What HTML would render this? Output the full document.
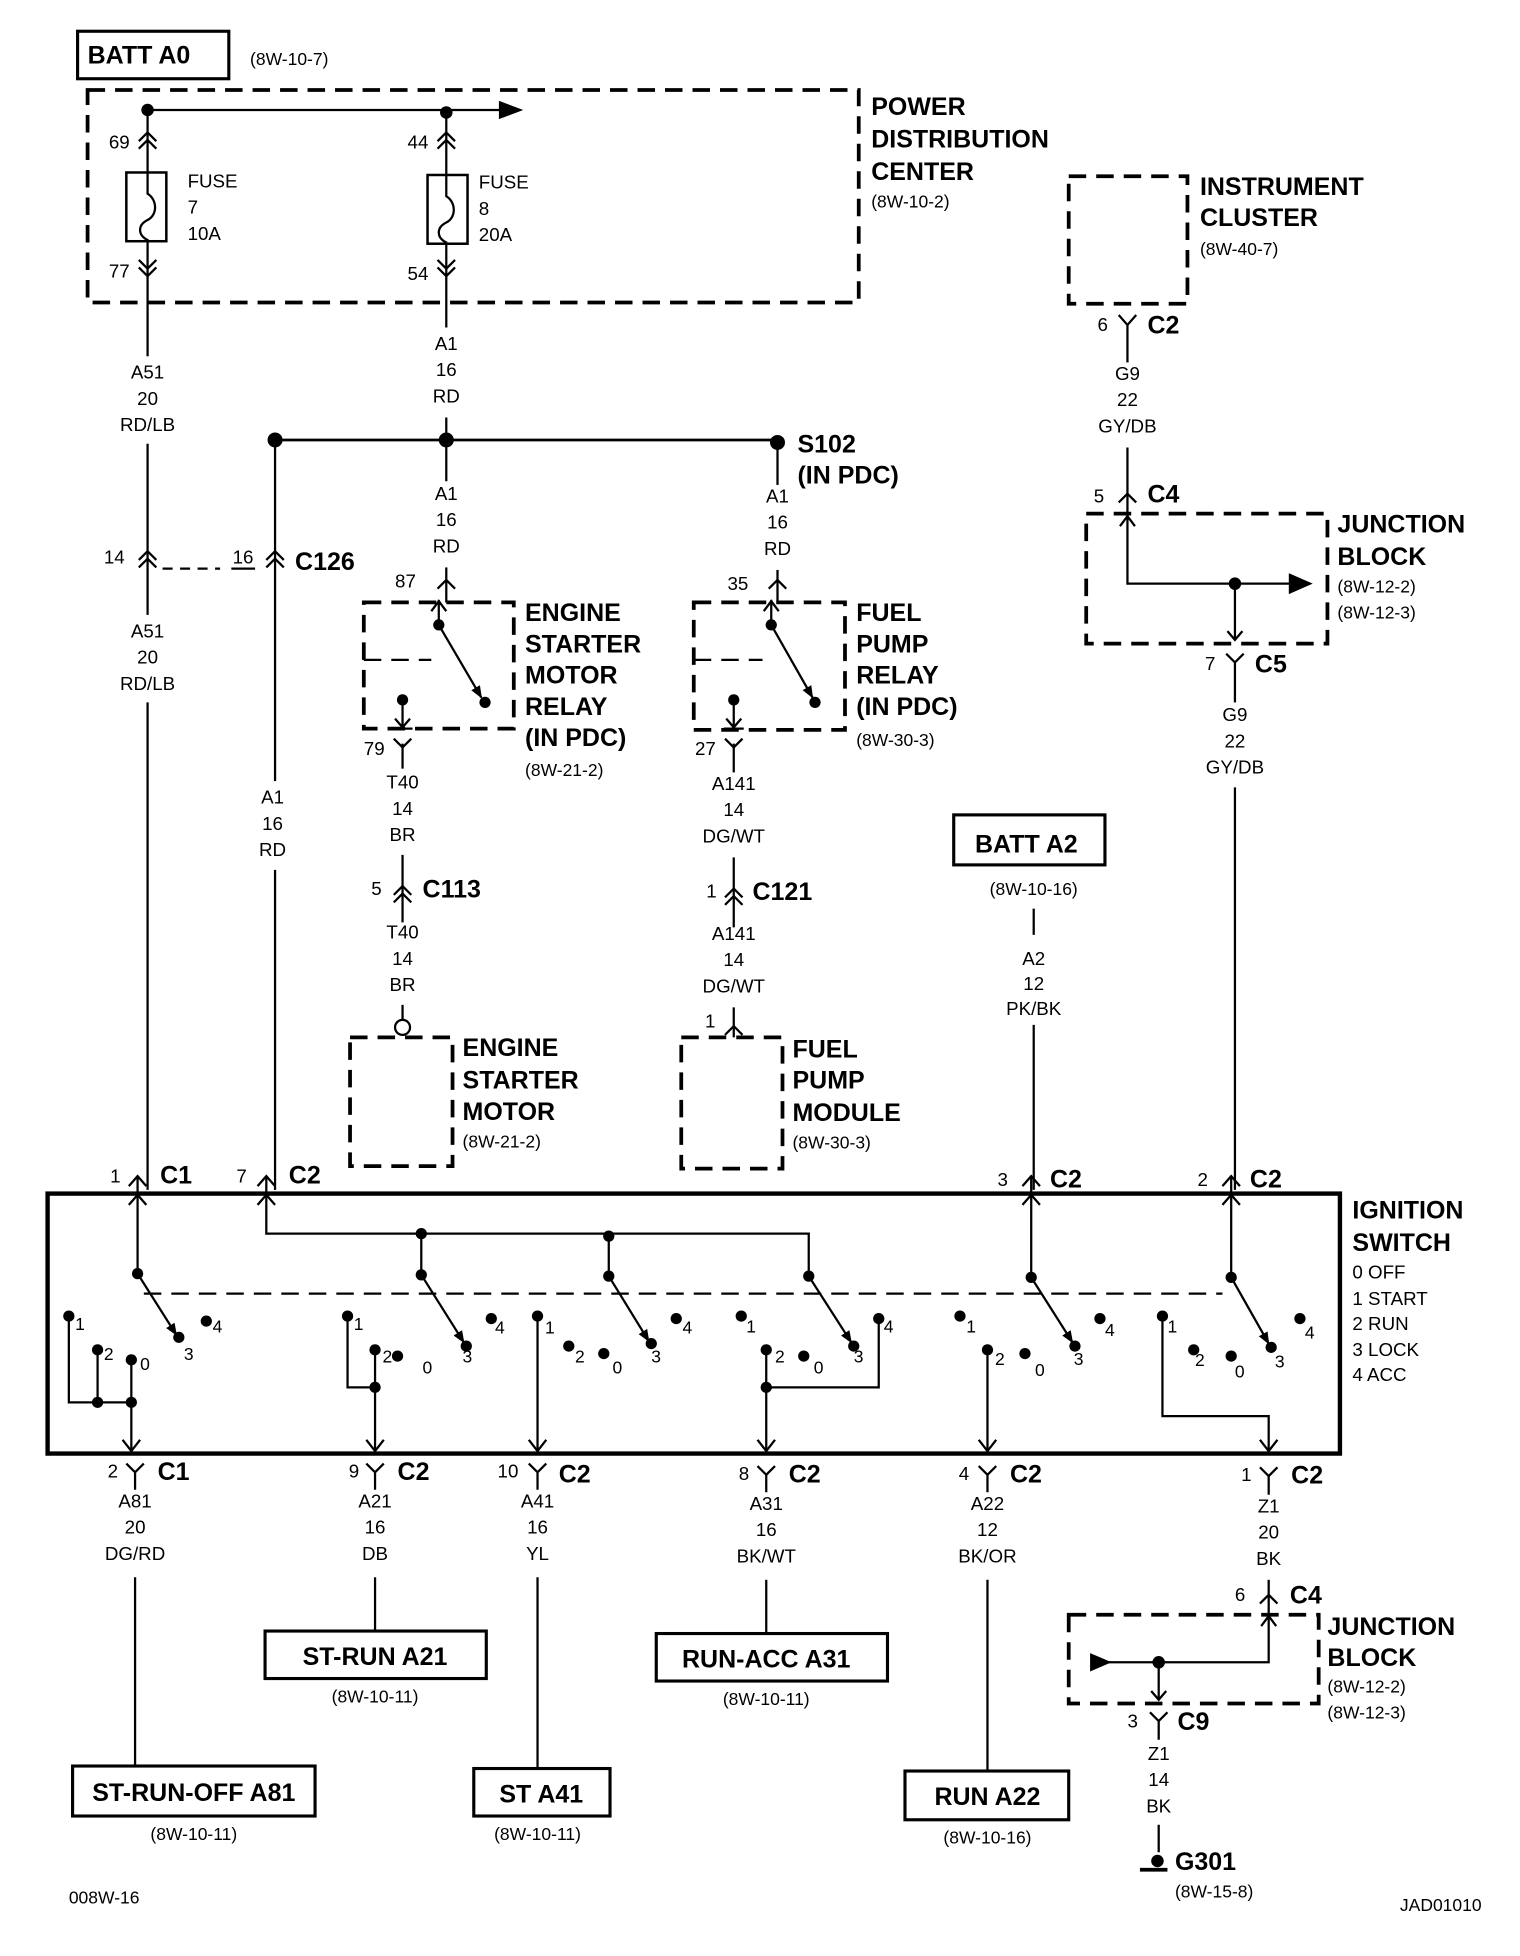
<!DOCTYPE html>
<html><head><meta charset="utf-8"><style>
html,body{margin:0;padding:0;background:#fff;}
svg{display:block;}
text{font-family:"Liberation Sans",Arial,sans-serif;fill:#000;}
.b{font-weight:bold;font-size:20px;}
.s{font-size:14px;}
.m{font-size:15px;}
.w{font-size:15px;text-anchor:middle;}
</style></head><body>
<svg width="1520" height="1956" viewBox="0 0 1216 1565" xmlns="http://www.w3.org/2000/svg">
<defs>
<marker id="ah" markerWidth="10" markerHeight="10" refX="9" refY="5" orient="auto" markerUnits="userSpaceOnUse"><path d="M0,1 L10,5 L0,9 Z"/></marker>
<marker id="ahs" markerWidth="12" markerHeight="12" refX="11" refY="6" orient="auto" markerUnits="userSpaceOnUse"><path d="M0,0 L12,6 L0,12 Z"/></marker>
</defs>
<g fill="none" stroke="#000" stroke-width="1.8">
<!-- BATT A0 -->
<rect x="62" y="25" width="121" height="38" stroke-width="2.5"/>
<!-- PDC box -->
<rect x="70" y="72" width="617" height="170" stroke-width="3" stroke-dasharray="14,8"/>
<!-- top bus -->
<line x1="118" y1="88" x2="400" y2="88"/>
<path d="M400,82 L416,88 L400,94 Z" fill="#000"/>
<!-- fuses -->
<rect x="101" y="138" width="32" height="55" stroke-width="2"/>
<rect x="342" y="140" width="32" height="55" stroke-width="2"/>
<path d="M118,88 V155 C126,160 126,172 118,176 C110,180 110,188 118,192 V285"/>
<path d="M357,88 V157 C365,162 365,174 357,178 C349,182 349,190 357,194 V262"/>
<path d="M111,113 L118,106 L125,113 M111,119 L118,112 L125,119"/>
<path d="M350,113 L357,106 L364,113 M350,119 L357,112 L364,119"/>
<path d="M111,208 L118,215 L125,208 M111,214 L118,221 L125,214"/>
<path d="M350,208 L357,215 L364,208 M350,214 L357,221 L364,214"/>
<!-- A51 wire -->
<line x1="118" y1="355" x2="118" y2="492"/>
<line x1="118" y1="562" x2="118" y2="952"/>
<path d="M111,448 L118,441 L125,448 M111,454 L118,447 L125,454"/>
<path d="M213,448 L220,441 L227,448 M213,454 L220,447 L227,454"/>
<line x1="130" y1="455" x2="176" y2="455" stroke-dasharray="8,6"/>
<line x1="185" y1="455" x2="204" y2="455"/>
<!-- A1 main -->
<line x1="357" y1="334" x2="357" y2="385"/>
<line x1="357" y1="454" x2="357" y2="482"/>
<path d="M350,471 L357,464 L364,471"/>
<!-- bus -->
<line x1="220" y1="352" x2="622" y2="352" stroke-width="2.2"/>
<line x1="220" y1="352" x2="220" y2="625"/>
<line x1="220" y1="696" x2="220" y2="952"/>
<line x1="622" y1="352" x2="622" y2="388"/>
<line x1="622" y1="456" x2="622" y2="482"/>
<path d="M615,471 L622,464 L629,471"/>
<!-- starter relay -->
<rect x="291" y="482" width="120" height="101" stroke-width="3" stroke-dasharray="14,8"/>
<line x1="291" y1="528" x2="345" y2="528" stroke-dasharray="14,8"/>
<path d="M351,480 V500 M345,489 L351,481 L357,489"/>
<line x1="351" y1="500" x2="385" y2="558" marker-end="url(#ah)"/>
<path d="M322,560 V582 M316,575 L322,582 L328,575 M314,583 H330"/>
<line x1="322" y1="595" x2="322" y2="615"/>
<path d="M315,591 L322,598 L329,591"/>
<line x1="322" y1="684" x2="322" y2="738"/>
<path d="M315,716 L322,709 L329,716 M315,722 L322,715 L329,722"/>
<line x1="322" y1="804" x2="322" y2="816"/>
<circle cx="322" cy="822" r="6"/>
<rect x="280" y="830" width="82" height="103" stroke-width="3" stroke-dasharray="14,8"/>
<!-- fuel pump relay -->
<rect x="555" y="482" width="121" height="102" stroke-width="3" stroke-dasharray="14,8"/>
<line x1="555" y1="528" x2="610" y2="528" stroke-dasharray="14,8"/>
<path d="M617,480 V500 M611,489 L617,481 L623,489"/>
<line x1="617" y1="500" x2="650" y2="558" marker-end="url(#ah)"/>
<path d="M587,560 V582 M581,575 L587,582 L593,575 M579,583 H595"/>
<line x1="587" y1="595" x2="587" y2="618"/>
<path d="M580,591 L587,598 L594,591"/>
<line x1="587" y1="686" x2="587" y2="742"/>
<path d="M580,718 L587,711 L594,718 M580,724 L587,717 L594,724"/>
<line x1="587" y1="806" x2="587" y2="830"/>
<path d="M580,828 L587,821 L594,828"/>
<rect x="545" y="830" width="81" height="105" stroke-width="3" stroke-dasharray="14,8"/>
<!-- BATT A2 -->
<rect x="763" y="652" width="121" height="40" stroke-width="2.5"/>
<line x1="827" y1="727" x2="827" y2="748"/>
<line x1="827" y1="820" x2="827" y2="952"/>
<!-- instrument cluster -->
<rect x="855" y="141" width="95" height="102" stroke-width="3" stroke-dasharray="14,8"/>
<line x1="902" y1="260" x2="902" y2="290"/>
<path d="M895,252 L902,260 L909,252"/>
<line x1="902" y1="358" x2="902" y2="411"/>
<path d="M895,402 L902,395 L909,402"/>
<rect x="869" y="411" width="193" height="104" stroke-width="3" stroke-dasharray="14,8"/>
<path d="M902,412 V467 H1035 M896,421 L902,413 L908,421"/>
<path d="M1032,460 L1048,467 L1032,474 Z" fill="#000"/>
<path d="M988,467 V512 M982,505 L988,512 L994,505"/>
<line x1="988" y1="530" x2="988" y2="562"/>
<path d="M981,523 L988,530 L995,523"/>
<line x1="988" y1="630" x2="988" y2="952"/>
<!-- ignition switch -->
<rect x="38" y="955" width="1034" height="208" stroke-width="3.5"/>
<path d="M103,949 L110,941 L117,949 M206,949 L213,941 L220,949 M818,949 L825,941 L832,949 M978,949 L985,941 L992,949"/>
<path d="M103,964 L110,956 L117,964 M206,964 L213,956 L220,964 M818,964 L825,956 L832,964 M978,964 L985,956 L992,964"/>
<line x1="115" y1="1035" x2="978" y2="1035" stroke-dasharray="14,8"/>
<!-- group1 -->
<path d="M110,942 V1019"/>
<line x1="110" y1="1019" x2="141" y2="1068" marker-end="url(#ah)"/>
<path d="M55,1053 V1122 H105 M78,1080 V1122 M105,1088 V1160"/>
<!-- group2 bus -->
<path d="M213,942 V987 H647 V1021"/>
<path d="M337,987 V1020 M487,987 V1021"/>
<line x1="337" y1="1020" x2="371" y2="1074" marker-end="url(#ah)"/>
<line x1="487" y1="1021" x2="519" y2="1073" marker-end="url(#ah)"/>
<line x1="647" y1="1021" x2="681" y2="1074" marker-end="url(#ah)"/>
<path d="M278,1053 V1110 H300 M300,1080 V1160"/>
<path d="M430,1053 V1160"/>
<path d="M613,1080 V1160 M703,1055 V1110 H613"/>
<path d="M825,942 V1022"/>
<line x1="825" y1="1022" x2="858" y2="1074" marker-end="url(#ah)"/>
<path d="M790,1080 V1160"/>
<path d="M985,942 V1022"/>
<line x1="985" y1="1022" x2="1015" y2="1075" marker-end="url(#ah)"/>
<path d="M930,1053 V1133 H1015 V1160"/>
<!-- bottom arrows into connectors -->
<path d="M98,1152 L105,1161 L112,1152 M293,1152 L300,1161 L307,1152 M423,1152 L430,1161 L437,1152 M606,1152 L613,1161 L620,1152 M783,1152 L790,1161 L797,1152 M1008,1152 L1015,1161 L1022,1152"/>
<!-- bottom Y connectors -->
<path d="M101,1171 L108,1178 L115,1171 M108,1178 V1192"/>
<path d="M293,1171 L300,1178 L307,1171 M300,1178 V1192"/>
<path d="M423,1171 L430,1178 L437,1171 M430,1178 V1192"/>
<path d="M606,1173 L613,1180 L620,1173 M613,1180 V1194"/>
<path d="M783,1173 L790,1180 L797,1173 M790,1180 V1194"/>
<path d="M1008,1174 L1015,1181 L1022,1174 M1015,1181 V1196"/>
<line x1="108" y1="1262" x2="108" y2="1413"/>
<line x1="300" y1="1262" x2="300" y2="1305"/>
<line x1="430" y1="1262" x2="430" y2="1415"/>
<line x1="613" y1="1264" x2="613" y2="1307"/>
<line x1="790" y1="1264" x2="790" y2="1417"/>
<line x1="1015" y1="1264" x2="1015" y2="1292"/>
<path d="M1008,1283 L1015,1276 L1022,1283"/>
<rect x="58" y="1413" width="194" height="40" stroke-width="2.5"/>
<rect x="212" y="1305" width="177" height="38" stroke-width="2.5"/>
<rect x="379" y="1415" width="109" height="38" stroke-width="2.5"/>
<rect x="525" y="1307" width="185" height="38" stroke-width="2.5"/>
<rect x="724" y="1417" width="131" height="39" stroke-width="2.5"/>
<!-- junction block 2 -->
<rect x="855" y="1292" width="200" height="71" stroke-width="3" stroke-dasharray="14,8"/>
<path d="M1015,1292 V1330 H885 M1009,1301 L1015,1293 L1021,1301"/>
<path d="M873,1324 L887,1330 L873,1336 Z" fill="#000"/>
<path d="M927,1330 V1360 M921,1353 L927,1360 L933,1353"/>
<path d="M920,1370 L927,1377 L934,1370 M927,1377 V1392"/>
<line x1="927" y1="1460" x2="927" y2="1482"/>
<line x1="912" y1="1496" x2="934" y2="1496" stroke-width="3"/>
</g>
<g fill="#000">
<circle cx="118" cy="88" r="5"/><circle cx="357" cy="90" r="5"/>
<circle cx="220" cy="352" r="6"/><circle cx="357" cy="352" r="6"/><circle cx="622" cy="354" r="6"/>
<circle cx="351" cy="500" r="4.5"/><circle cx="388" cy="562" r="4.5"/><circle cx="322" cy="560" r="4.5"/>
<circle cx="617" cy="500" r="4.5"/><circle cx="652" cy="562" r="4.5"/><circle cx="587" cy="560" r="4.5"/>
<circle cx="988" cy="467" r="5"/><circle cx="927" cy="1330" r="5"/>
<circle cx="926" cy="1489" r="5"/>
<!-- switch dots -->
<circle cx="110" cy="1019" r="4.5"/><circle cx="55" cy="1053" r="4.5"/><circle cx="78" cy="1080" r="4.5"/><circle cx="105" cy="1088" r="4.5"/><circle cx="143" cy="1070" r="4.5"/><circle cx="165" cy="1057" r="4.5"/><circle cx="78" cy="1122" r="4.5"/><circle cx="105" cy="1122" r="4.5"/>
<circle cx="337" cy="987" r="4.5"/><circle cx="487" cy="989" r="4.5"/><circle cx="337" cy="1020" r="4.5"/><circle cx="487" cy="1021" r="4.5"/><circle cx="647" cy="1021" r="4.5"/>
<circle cx="278" cy="1053" r="4.5"/><circle cx="300" cy="1080" r="4.5"/><circle cx="318" cy="1085" r="4.5"/><circle cx="373" cy="1077" r="4.5"/><circle cx="393" cy="1055" r="4.5"/><circle cx="300" cy="1110" r="4.5"/>
<circle cx="430" cy="1053" r="4.5"/><circle cx="455" cy="1077" r="4.5"/><circle cx="483" cy="1083" r="4.5"/><circle cx="521" cy="1075" r="4.5"/><circle cx="541" cy="1055" r="4.5"/>
<circle cx="593" cy="1053" r="4.5"/><circle cx="613" cy="1080" r="4.5"/><circle cx="643" cy="1085" r="4.5"/><circle cx="683" cy="1077" r="4.5"/><circle cx="703" cy="1055" r="4.5"/><circle cx="613" cy="1110" r="4.5"/>
<circle cx="825" cy="1022" r="4.5"/><circle cx="768" cy="1053" r="4.5"/><circle cx="790" cy="1080" r="4.5"/><circle cx="820" cy="1083" r="4.5"/><circle cx="860" cy="1077" r="4.5"/><circle cx="880" cy="1055" r="4.5"/>
<circle cx="985" cy="1022" r="4.5"/><circle cx="930" cy="1053" r="4.5"/><circle cx="955" cy="1080" r="4.5"/><circle cx="985" cy="1085" r="4.5"/><circle cx="1017" cy="1078" r="4.5"/><circle cx="1040" cy="1055" r="4.5"/>
</g>
<!-- texts -->
<text x="70" y="51" class="b">BATT A0</text>
<text x="200" y="52" class="s">(8W-10-7)</text>
<text x="697" y="92" class="b">POWER</text>
<text x="697" y="118" class="b">DISTRIBUTION</text>
<text x="697" y="144" class="b">CENTER</text>
<text x="697" y="166" class="s">(8W-10-2)</text>
<text x="87" y="119" class="m">69</text><text x="87" y="222" class="m">77</text>
<text x="326" y="119" class="m">44</text><text x="326" y="224" class="m">54</text>
<text x="150" y="150" class="m">FUSE</text><text x="150" y="171" class="m">7</text><text x="150" y="192" class="m">10A</text>
<text x="383" y="151" class="m">FUSE</text><text x="383" y="172" class="m">8</text><text x="383" y="193" class="m">20A</text>
<text x="118" y="303" class="w">A51</text><text x="118" y="324" class="w">20</text><text x="118" y="345" class="w">RD/LB</text>
<text x="357" y="280" class="w">A1</text><text x="357" y="301" class="w">16</text><text x="357" y="322" class="w">RD</text>
<text x="638" y="362" class="b">S102</text><text x="638" y="387" class="b">(IN PDC)</text>
<text x="83" y="451" class="m">14</text><text x="186" y="451" class="m">16</text>
<text x="236" y="456" class="b">C126</text>
<text x="118" y="510" class="w">A51</text><text x="118" y="531" class="w">20</text><text x="118" y="552" class="w">RD/LB</text>
<text x="357" y="400" class="w">A1</text><text x="357" y="421" class="w">16</text><text x="357" y="442" class="w">RD</text>
<text x="622" y="402" class="w">A1</text><text x="622" y="423" class="w">16</text><text x="622" y="444" class="w">RD</text>
<text x="218" y="643" class="w">A1</text><text x="218" y="664" class="w">16</text><text x="218" y="685" class="w">RD</text>
<text x="316" y="470" class="m">87</text><text x="582" y="472" class="m">35</text>
<text x="420" y="497" class="b">ENGINE</text><text x="420" y="522" class="b">STARTER</text><text x="420" y="547" class="b">MOTOR</text><text x="420" y="572" class="b">RELAY</text><text x="420" y="597" class="b">(IN PDC)</text>
<text x="420" y="621" class="s">(8W-21-2)</text>
<text x="685" y="497" class="b">FUEL</text><text x="685" y="522" class="b">PUMP</text><text x="685" y="547" class="b">RELAY</text><text x="685" y="572" class="b">(IN PDC)</text>
<text x="685" y="597" class="s">(8W-30-3)</text>
<text x="291" y="604" class="m">79</text><text x="556" y="604" class="m">27</text>
<text x="322" y="631" class="w">T40</text><text x="322" y="652" class="w">14</text><text x="322" y="673" class="w">BR</text>
<text x="297" y="716" class="m">5</text><text x="338" y="718" class="b">C113</text>
<text x="322" y="751" class="w">T40</text><text x="322" y="772" class="w">14</text><text x="322" y="793" class="w">BR</text>
<text x="370" y="845" class="b">ENGINE</text><text x="370" y="871" class="b">STARTER</text><text x="370" y="896" class="b">MOTOR</text><text x="370" y="918" class="s">(8W-21-2)</text>
<text x="587" y="632" class="w">A141</text><text x="587" y="653" class="w">14</text><text x="587" y="674" class="w">DG/WT</text>
<text x="565" y="718" class="m">1</text><text x="602" y="720" class="b">C121</text>
<text x="587" y="752" class="w">A141</text><text x="587" y="773" class="w">14</text><text x="587" y="794" class="w">DG/WT</text>
<text x="564" y="822" class="m">1</text>
<text x="634" y="846" class="b">FUEL</text><text x="634" y="871" class="b">PUMP</text><text x="634" y="897" class="b">MODULE</text><text x="634" y="919" class="s">(8W-30-3)</text>
<text x="780" y="682" class="b">BATT A2</text>
<text x="827" y="716" class="w" style="font-size:14px">(8W-10-16)</text>
<text x="827" y="772" class="w">A2</text><text x="827" y="792" class="w">12</text><text x="827" y="812" class="w">PK/BK</text>
<text x="960" y="156" class="b">INSTRUMENT</text><text x="960" y="181" class="b">CLUSTER</text><text x="960" y="204" class="s">(8W-40-7)</text>
<text x="878" y="265" class="m">6</text><text x="918" y="267" class="b">C2</text>
<text x="902" y="304" class="w">G9</text><text x="902" y="325" class="w">22</text><text x="902" y="346" class="w">GY/DB</text>
<text x="875" y="402" class="m">5</text><text x="918" y="402" class="b">C4</text>
<text x="1070" y="426" class="b">JUNCTION</text><text x="1070" y="452" class="b">BLOCK</text>
<text x="1070" y="474" class="s">(8W-12-2)</text><text x="1070" y="495" class="s">(8W-12-3)</text>
<text x="964" y="536" class="m">7</text><text x="1004" y="538" class="b">C5</text>
<text x="988" y="577" class="w">G9</text><text x="988" y="598" class="w">22</text><text x="988" y="619" class="w">GY/DB</text>
<text x="88" y="946" class="m">1</text><text x="128" y="947" class="b">C1</text>
<text x="189" y="946" class="m">7</text><text x="231" y="947" class="b">C2</text>
<text x="798" y="949" class="m">3</text><text x="840" y="950" class="b">C2</text>
<text x="958" y="949" class="m">2</text><text x="1000" y="950" class="b">C2</text>
<text x="1082" y="975" class="b">IGNITION</text><text x="1082" y="1001" class="b">SWITCH</text>
<text x="1082" y="1023" class="m">0 OFF</text><text x="1082" y="1044" class="m">1 START</text><text x="1082" y="1064" class="m">2 RUN</text><text x="1082" y="1085" class="m">3 LOCK</text><text x="1082" y="1105" class="m">4 ACC</text>
<g class="s">
<text x="60" y="1064">1</text><text x="83" y="1088">2</text><text x="112" y="1096">0</text><text x="147" y="1088">3</text><text x="170" y="1066">4</text>
<text x="283" y="1064">1</text><text x="306" y="1090">2</text><text x="338" y="1099">0</text><text x="370" y="1090">3</text><text x="396" y="1067">4</text>
<text x="436" y="1067">1</text><text x="460" y="1090">2</text><text x="490" y="1099">0</text><text x="521" y="1090">3</text><text x="546" y="1067">4</text>
<text x="597" y="1066">1</text><text x="620" y="1090">2</text><text x="651" y="1099">0</text><text x="683" y="1090">3</text><text x="707" y="1066">4</text>
<text x="773" y="1066">1</text><text x="796" y="1092">2</text><text x="828" y="1101">0</text><text x="859" y="1092">3</text><text x="884" y="1069">4</text>
<text x="934" y="1066">1</text><text x="956" y="1093">2</text><text x="988" y="1102">0</text><text x="1020" y="1094">3</text><text x="1044" y="1071">4</text>
</g>
<text x="86" y="1182" class="m">2</text><text x="126" y="1184" class="b">C1</text>
<text x="279" y="1182" class="m">9</text><text x="318" y="1184" class="b">C2</text>
<text x="398" y="1182" class="m">10</text><text x="447" y="1186" class="b">C2</text>
<text x="591" y="1184" class="m">8</text><text x="631" y="1186" class="b">C2</text>
<text x="767" y="1184" class="m">4</text><text x="808" y="1186" class="b">C2</text>
<text x="993" y="1185" class="m">1</text><text x="1033" y="1187" class="b">C2</text>
<text x="108" y="1206" class="w">A81</text><text x="108" y="1227" class="w">20</text><text x="108" y="1248" class="w">DG/RD</text>
<text x="300" y="1206" class="w">A21</text><text x="300" y="1227" class="w">16</text><text x="300" y="1248" class="w">DB</text>
<text x="430" y="1206" class="w">A41</text><text x="430" y="1227" class="w">16</text><text x="430" y="1248" class="w">YL</text>
<text x="613" y="1208" class="w">A31</text><text x="613" y="1229" class="w">16</text><text x="613" y="1250" class="w">BK/WT</text>
<text x="790" y="1208" class="w">A22</text><text x="790" y="1229" class="w">12</text><text x="790" y="1250" class="w">BK/OR</text>
<text x="1015" y="1210" class="w">Z1</text><text x="1015" y="1231" class="w">20</text><text x="1015" y="1252" class="w">BK</text>
<text x="155" y="1441" class="b" text-anchor="middle">ST-RUN-OFF A81</text><text x="155" y="1472" class="w" style="font-size:14px">(8W-10-11)</text>
<text x="300" y="1332" class="b" text-anchor="middle">ST-RUN A21</text><text x="300" y="1362" class="w" style="font-size:14px">(8W-10-11)</text>
<text x="433" y="1442" class="b" text-anchor="middle">ST A41</text><text x="430" y="1472" class="w" style="font-size:14px">(8W-10-11)</text>
<text x="613" y="1334" class="b" text-anchor="middle">RUN-ACC A31</text><text x="613" y="1364" class="w" style="font-size:14px">(8W-10-11)</text>
<text x="790" y="1444" class="b" text-anchor="middle">RUN A22</text><text x="790" y="1475" class="w" style="font-size:14px">(8W-10-16)</text>
<text x="988" y="1281" class="m">6</text><text x="1032" y="1283" class="b">C4</text>
<text x="1062" y="1308" class="b">JUNCTION</text><text x="1062" y="1333" class="b">BLOCK</text>
<text x="1062" y="1354" class="s">(8W-12-2)</text><text x="1062" y="1375" class="s">(8W-12-3)</text>
<text x="902" y="1382" class="m">3</text><text x="942" y="1384" class="b">C9</text>
<text x="927" y="1408" class="w">Z1</text><text x="927" y="1429" class="w">14</text><text x="927" y="1450" class="w">BK</text>
<text x="940" y="1496" class="b">G301</text><text x="940" y="1518" class="s">(8W-15-8)</text>
<text x="55" y="1523" class="s">008W-16</text>
<text x="1120" y="1529" class="s">JAD01010</text>
</svg>
</body></html>
